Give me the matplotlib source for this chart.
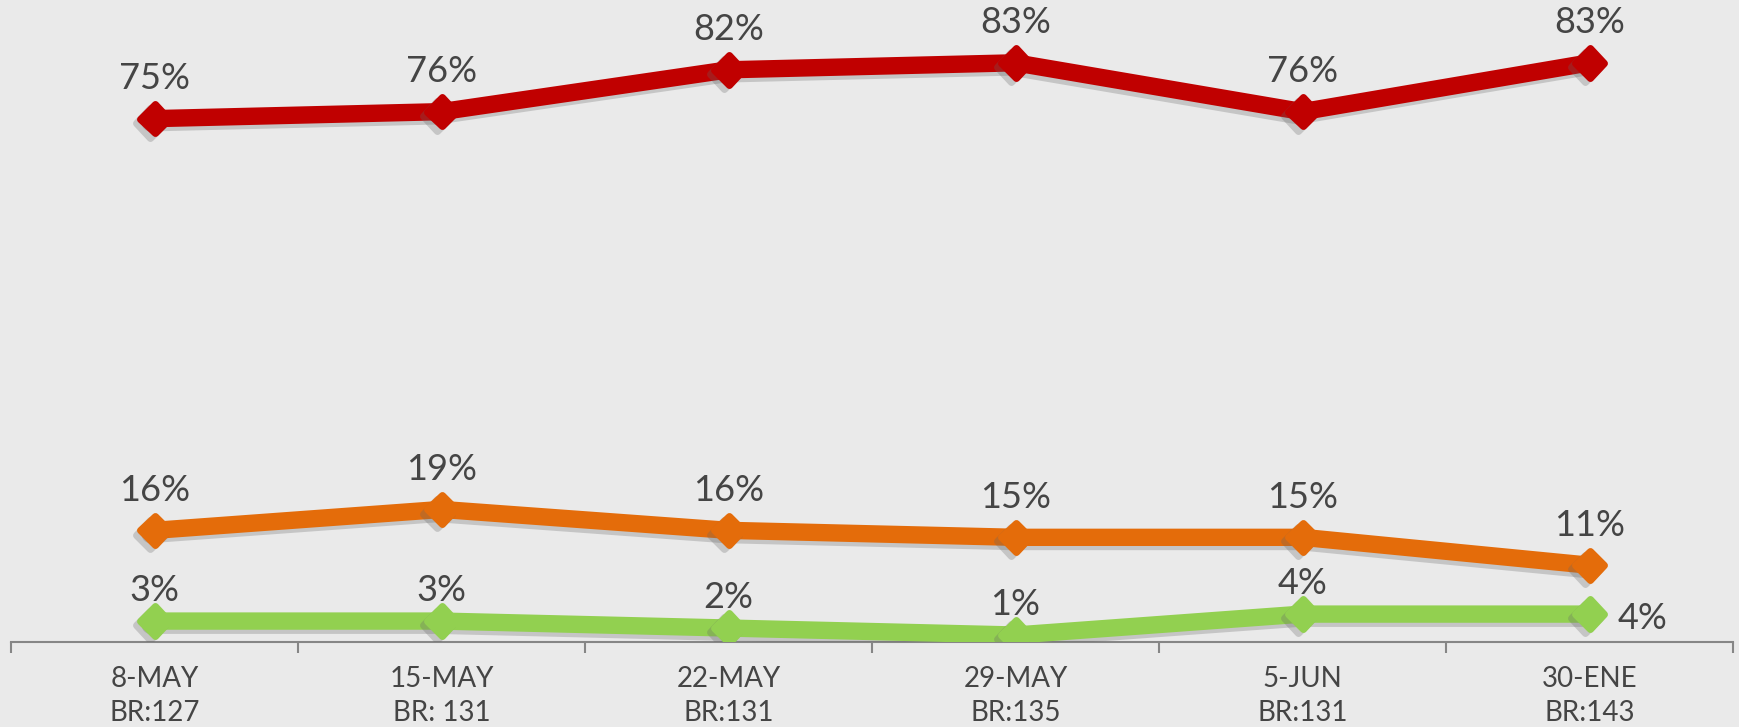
"""Weekly trend lines with percentage labels."""

import matplotlib
matplotlib.use("Agg")
import matplotlib.pyplot as plt
import matplotlib.patheffects as pe
from matplotlib.markers import MarkerStyle
import numpy as np

dates = ["8-MAY", "15-MAY", "22-MAY", "29-MAY", "5-JUN", "30-ENE"]
bases = ["BR:127", "BR: 131", "BR:131", "BR:135", "BR:131", "BR:143"]
red_vals = [75, 76, 82, 83, 76, 83]
orange_vals = [16, 19, 16, 15, 15, 11]
green_vals = [3, 3, 2, 1, 4, 4]

BG = "#EAEAEA"
TXT = "#454545"

plt.rcParams["font.family"] = ["Lato", "DejaVu Sans"]

fig = plt.figure(figsize=(17.39, 7.27), dpi=100, facecolor=BG)
ax = fig.add_axes([11 / 1739, 85 / 727, 1722 / 1739, 642 / 727])
ax.set_facecolor(BG)

x = np.arange(len(dates))
series = [
    (red_vals, "#C00000", 40),
    (orange_vals, "#E46C0A", 40),
    (green_vals, "#92D050", 31),
]
shadow = [pe.SimpleLineShadow(offset=(-3, -3), shadow_color="#666666", alpha=0.28),
          pe.Normal()]
diamond = MarkerStyle("D", joinstyle="round")

for vals, color, off in series:
    ax.plot(x, vals, color=color, lw=12.5, solid_joinstyle="round",
            solid_capstyle="round", marker=diamond, markersize=15,
            markeredgewidth=5, markeredgecolor=color, path_effects=shadow,
            zorder=3)
    for i, v in enumerate(vals):
        if color == "#92D050" and i == len(vals) - 1:
            ax.annotate(f"{v}%", (x[i], v), xytext=(28, -4),
                        textcoords="offset pixels", ha="left", va="center",
                        fontsize=26, color=TXT)
        else:
            ax.annotate(f"{v}%", (x[i], v), xytext=(0, off),
                        textcoords="offset pixels", ha="center", va="center",
                        fontsize=26, color=TXT)

ax.set_xlim(-0.5, len(dates) - 0.5)
ax.set_ylim(0, 92)
ax.set_yticks([])
for side in ["left", "right", "top"]:
    ax.spines[side].set_visible(False)
ax.spines["bottom"].set_color("#868686")
ax.spines["bottom"].set_linewidth(1.5)

ax.set_xticks(x)
ax.set_xticklabels([f"{d}\n{b}" for d, b in zip(dates, bases)],
                   fontsize=20, color=TXT, linespacing=1.4)
ax.tick_params(axis="x", which="major", length=0, pad=17)
ax.set_xticks(np.arange(-0.5, len(dates)), minor=True)
ax.tick_params(axis="x", which="minor", length=8, width=1.5, color="#868686")

fig.savefig("out.png", dpi=100, facecolor=BG)
